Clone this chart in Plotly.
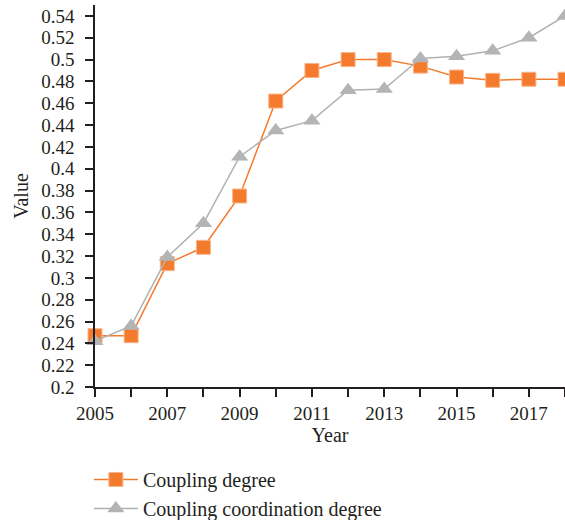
import plotly.graph_objects as go

years = [2005, 2006, 2007, 2008, 2009, 2010, 2011, 2012, 2013, 2014, 2015, 2016, 2017, 2018]
coupling_degree = [0.247, 0.247, 0.313, 0.328, 0.375, 0.462, 0.490, 0.500, 0.500, 0.494, 0.484, 0.481, 0.482, 0.482]
coupling_coordination = [0.242, 0.256, 0.319, 0.350, 0.411, 0.435, 0.444, 0.472, 0.473, 0.501, 0.503, 0.508, 0.520, 0.540]
x_tick_vals = years
x_tick_text = ["2005", "", "2007", "", "2009", "", "2011", "", "2013", "", "2015", "", "2017", ""]
y_tick_vals = [0.2, 0.22, 0.24, 0.26, 0.28, 0.3, 0.32, 0.34, 0.36, 0.38, 0.4, 0.42, 0.44, 0.46, 0.48, 0.5, 0.52, 0.54]
y_tick_text = ["0.2", "0.22", "0.24", "0.26", "0.28", "0.3", "0.32", "0.34", "0.36", "0.38", "0.4",
               "0.42", "0.44", "0.46", "0.48", "0.5", "0.52", "0.54"]

FONT = "Liberation Serif, DejaVu Serif, serif"
AXIS = "#231f20"

fig = go.Figure()
fig.add_trace(go.Scatter(
    x=years, y=coupling_degree, name="Coupling degree", mode="lines+markers",
    line=dict(color="#F47B2E", width=1.5),
    marker=dict(symbol="square", size=14, color="#F47B2E", line=dict(color="#F9B58A", width=1)),
    cliponaxis=False,
))
fig.add_trace(go.Scatter(
    x=years, y=coupling_coordination, name="Coupling coordination degree", mode="lines+markers",
    line=dict(color="#B0B1B3", width=1.5),
    marker=dict(symbol="triangle-up", size=15, color="#B3B4B6"),
    cliponaxis=False,
))

fig.update_layout(
    width=565, height=520,
    margin=dict(l=95, r=0, t=5, b=133, autoexpand=False),
    paper_bgcolor="white", plot_bgcolor="white",
    font=dict(family=FONT, size=19, color=AXIS),
    showlegend=True,
    legend=dict(
        x=-0.013, y=-0.191, xanchor="left", yanchor="top",
        orientation="v", font=dict(family=FONT, size=20, color=AXIS),
        tracegroupgap=0, itemwidth=44,
    ),
    xaxis=dict(
        range=[2005, 2018], tickmode="array", tickvals=x_tick_vals, ticktext=x_tick_text,
        showgrid=False, zeroline=False, showline=True, linecolor=AXIS, linewidth=1.5,
        ticks="outside", ticklen=8, tickwidth=1.5, tickcolor=AXIS, automargin=False,
        tickfont=dict(family=FONT, size=19, color=AXIS),
        title=dict(text="Year", font=dict(family=FONT, size=20, color=AXIS), standoff=2),
    ),
    yaxis=dict(
        range=[0.2, 0.55], tickmode="array", tickvals=y_tick_vals, ticktext=y_tick_text,
        showgrid=False, zeroline=False, showline=True, linecolor=AXIS, linewidth=1.5,
        ticks="outside", ticklen=8, tickwidth=1.5, tickcolor=AXIS, automargin=False,
        ticklabelstandoff=7,
        tickfont=dict(family=FONT, size=19, color=AXIS),
        title=dict(text="Value", font=dict(family=FONT, size=20, color=AXIS), standoff=7),
    ),
)

fig.write_html(
    "out.html",
    config={"displayModeBar": False},
    post_script="document.body.style.margin='0';document.body.style.overflow='hidden';",
)
